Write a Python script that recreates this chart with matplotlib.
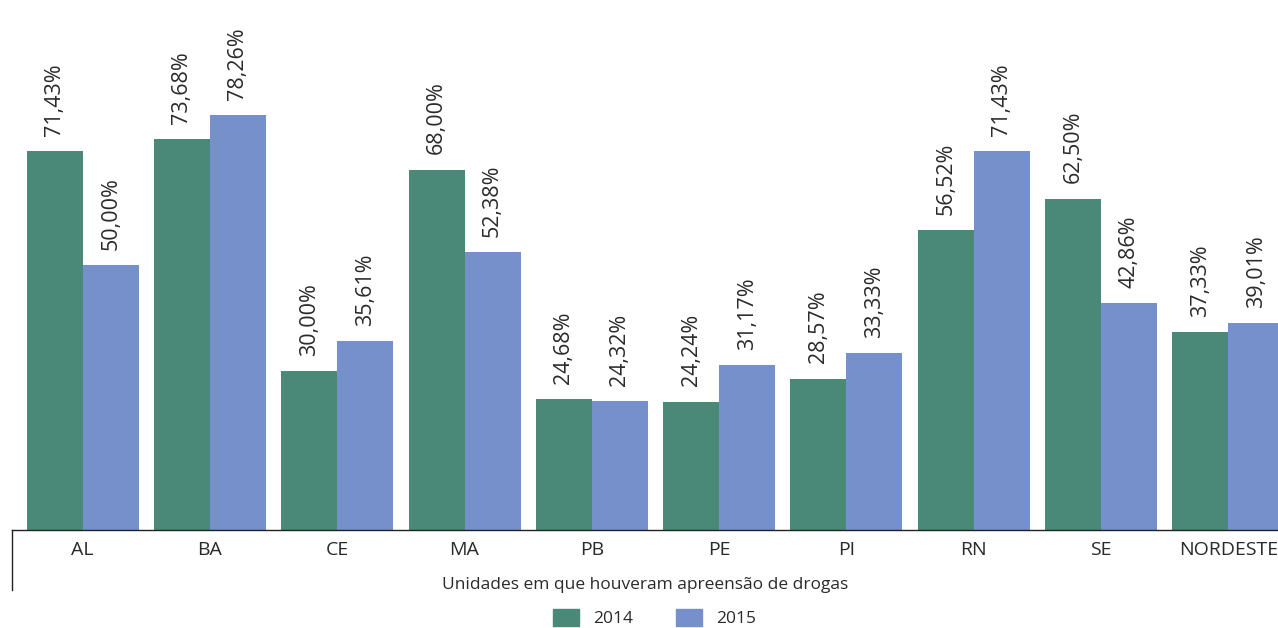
import numpy as np
import matplotlib.pyplot as plt
from matplotlib.patches import Patch

plt.rcParams['font.family'] = ['Open Sans', 'DejaVu Sans']

# data
ufs = ['AL', 'BA', 'CE', 'MA', 'PB', 'PE', 'PI', 'RN', 'SE', 'NORDESTE']
v2014 = [71.43, 73.68, 30.00, 68.00, 24.68, 24.24, 28.57, 56.52, 62.50, 37.33]
v2015 = [50.00, 78.26, 35.61, 52.38, 24.32, 31.17, 33.33, 71.43, 42.86, 39.01]

green = '#4a8877'
blue = '#7690cb'
txt = '#2a2a2a'

fig = plt.figure(figsize=(12.78, 6.28), dpi=100)
ax = fig.add_axes([12 / 1278, 98 / 628, 1 - 12 / 1278, 530 / 628])

x = np.arange(len(ufs))
w = 0.44
b1 = ax.bar(x - w / 2, v2014, w, color=green)
b2 = ax.bar(x + w / 2, v2015, w, color=blue)

# value labels, rotated
for bars, vals in [(b1, v2014), (b2, v2015)]:
    for r, v in zip(bars, vals):
        ax.annotate(f'{v:.2f}%'.replace('.', ','),
                    (r.get_x() + r.get_width() / 2, v),
                    xytext=(0, 11), textcoords='offset points',
                    rotation=90, ha='center', va='bottom',
                    fontsize=15.5, color=txt)

ax.set_xlim(-0.555, 9.39)
ax.set_ylim(0, 100)
ax.set_yticks([])
ax.set_xticks(x)
ax.set_xticklabels(ufs, fontsize=14, color=txt)
ax.tick_params(axis='x', length=0, pad=8)
for s in ['top', 'right', 'left']:
    ax.spines[s].set_visible(False)
ax.spines['bottom'].set_color('#222222')
ax.spines['bottom'].set_linewidth(1)

# left boundary tick line below axis
ax.plot([0, 0], [0, -60 / 530], transform=ax.transAxes, color='#222222',
        lw=1, clip_on=False)

ax.set_xlabel('Unidades em que houveram apreensão de drogas', fontsize=12.5,
              color=txt, labelpad=13)

handles = [Patch(color=green, label='2014'), Patch(color=blue, label='2015')]
fig.legend(handles=handles, loc='center', bbox_to_anchor=(0.512, 10 / 628),
           ncol=2, frameon=False, handlelength=1.5, handleheight=1.2,
           columnspacing=2.5, labelcolor=txt, prop={'size': 12.5})

fig.savefig('out.png', dpi=100)
